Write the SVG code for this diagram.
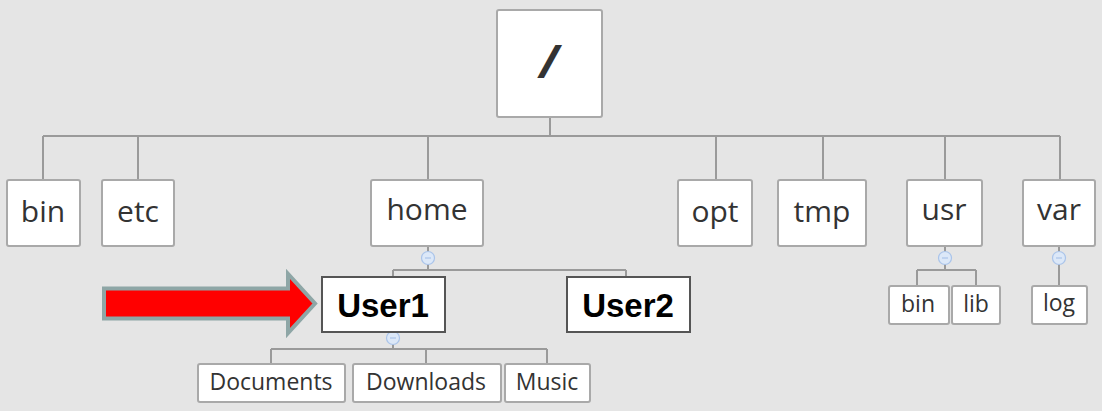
<svg xmlns="http://www.w3.org/2000/svg" width="1102" height="411" viewBox="0 0 1102 411">
<style>
.bg{fill:#e5e5e5}
.n{fill:#fff;stroke:#a9a9a9;stroke-width:2}
.b{fill:#fff;stroke:#555;stroke-width:2}
.c{fill:none;stroke:#9a9a9a;stroke-width:2}
.t{font-family:"Open Sans","DejaVu Sans",sans-serif;fill:#333;text-anchor:middle}
.L{font-size:30px}
.S{font-size:23px}
.B{font-family:"Liberation Sans",Arial,sans-serif;font-weight:bold;font-size:33px;fill:#000;text-anchor:middle}
.k{fill:#dce8f8;stroke:#aac4ea;stroke-width:1.2}
.km{stroke:#aac4ea;stroke-width:1.2}
</style>
<rect class="bg" x="0" y="0" width="1102" height="411"/>
<g id="connectors">
<path class="c" d="M550 117V136M43 136H1060M43 136V180M138 136V180M428 136V180M716 136V180M823 136V180M945 136V180M1060 136V180"/>
<path class="c" d="M428 246V270M393 270H626M393 270V277M626 270V277"/>
<path class="c" d="M393 332V349M271 349H547M271 349V363M426 349V363M547 349V363"/>
<path class="c" d="M945 246V270M917 270H976M917 270V286M976 270V286"/>
<path class="c" d="M1059 246V286"/>
<g id="toggles">
<circle class="k" cx="428" cy="258" r="6.5"/><path class="km" d="M425 258H431"/>
<circle class="k" cx="393" cy="338" r="6.5"/><path class="km" d="M390 338H396"/>
<circle class="k" cx="945" cy="258" r="6.5"/><path class="km" d="M942 258H948"/>
<circle class="k" cx="1059" cy="258" r="6.5"/><path class="km" d="M1056 258H1062"/>
</g>
</g>
<g id="root"><rect class="n" x="497" y="10" width="105" height="107" rx="2"/><text class="t" x="549" y="78" font-size="46" font-weight="bold" font-style="italic">/</text></g>
<g id="bin"><rect class="n" x="7" y="180" width="73" height="66" rx="2"/><text class="t L" x="43" y="222">bin</text></g>
<g id="etc"><rect class="n" x="102" y="180" width="72" height="66" rx="2"/><text class="t L" x="138" y="222">etc</text></g>
<g id="home"><rect class="n" x="371" y="180" width="112" height="66" rx="2"/><text class="t L" x="427" y="220">home</text></g>
<g id="opt"><rect class="n" x="678" y="180" width="74" height="66" rx="2"/><text class="t L" x="715" y="222">opt</text></g>
<g id="tmp"><rect class="n" x="778" y="180" width="88" height="66" rx="2"/><text class="t L" x="822" y="222">tmp</text></g>
<g id="usr"><rect class="n" x="907" y="180" width="75" height="66" rx="2"/><text class="t L" x="944" y="220">usr</text></g>
<g id="var"><rect class="n" x="1023" y="180" width="72" height="66" rx="2"/><text class="t L" x="1059" y="220">var</text></g>
<g id="user1"><rect class="b" x="322" y="277" width="123" height="55"/><text class="B" x="383" y="317">User1</text></g>
<g id="user2"><rect class="b" x="567" y="277" width="123" height="55"/><text class="B" x="628" y="317">User2</text></g>
<g id="documents"><rect class="n" x="198" y="364" width="147" height="38" rx="2"/><text class="t S" x="271" y="390">Documents</text></g>
<g id="downloads"><rect class="n" x="353" y="364" width="148" height="38" rx="2"/><text class="t S" x="426" y="390">Downloads</text></g>
<g id="music"><rect class="n" x="505" y="364" width="85" height="38" rx="2"/><text class="t S" x="547" y="390">Music</text></g>
<g id="usr-bin"><rect class="n" x="889" y="286" width="60" height="38" rx="2"/><text class="t S" x="918" y="312">bin</text></g>
<g id="usr-lib"><rect class="n" x="952" y="286" width="48" height="38" rx="2"/><text class="t S" x="976" y="312">lib</text></g>
<g id="var-log"><rect class="n" x="1032" y="286" width="55" height="38" rx="2"/><text class="t S" x="1059" y="311">log</text></g>
<g id="arrow"><path d="M104 288.5H288V274L315 303.5L288 333V318.5H104Z" fill="#ff0000" stroke="#8ea6a6" stroke-width="4" stroke-linejoin="miter"/></g>
</svg>
